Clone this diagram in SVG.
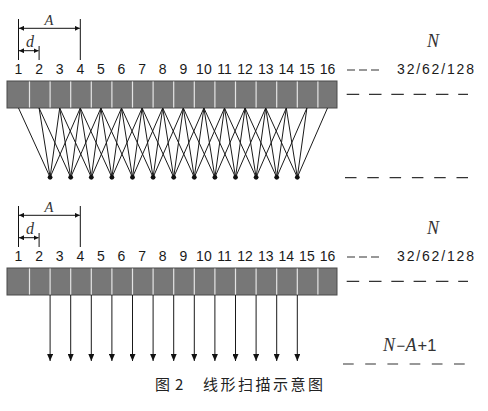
<svg xmlns="http://www.w3.org/2000/svg" width="488" height="411" viewBox="0 0 488 411">
<defs>
<style>
.num{font-family:"Liberation Sans",Arial,sans-serif;font-size:14px;fill:#1a1a1a;text-anchor:middle}
.it{font-family:"Liberation Serif","Times New Roman",serif;font-style:italic;fill:#333}
.bar{fill:#777;stroke:#4a4a4a;stroke-width:1}
.sep{stroke:#e4e4e4;stroke-width:1.2}
.dim{stroke:#111;stroke-width:1;fill:none}
.dash{stroke:#333;stroke-width:1.2;fill:none}
.wire{stroke:#1a1a1a;stroke-width:1;fill:none;stroke-linejoin:round}
.arr{stroke:#1a1a1a;stroke-width:1}
.cap{font-family:"Noto Sans CJK SC","Noto Sans",sans-serif;font-size:15px;fill:#222}
.op{font-family:"Liberation Sans",Arial,sans-serif;fill:#333}
</style>
<marker id="ah" viewBox="0 0 8 8" refX="8" refY="4" markerWidth="5" markerHeight="5" markerUnits="userSpaceOnUse" orient="auto-start-reverse">
<path d="M0,0L8,4L0,8z" fill="#111"/>
</marker>
<marker id="down" viewBox="0 0 6 7" refX="3" refY="7" markerWidth="6" markerHeight="7" markerUnits="userSpaceOnUse" orient="0">
<path d="M0,0L6,0L3,7z" fill="#111"/>
</marker>
<g id="header">
<line class="dim" x1="18.5" y1="19" x2="18.5" y2="60"/>
<line class="dim" x1="80.3" y1="19" x2="80.3" y2="60"/>
<line class="dim" x1="39.1" y1="46" x2="39.1" y2="60"/>
<line class="dim" x1="19" y1="28.3" x2="79.8" y2="28.3" marker-start="url(#ah)" marker-end="url(#ah)"/>
<line class="dim" x1="19" y1="50.7" x2="38.6" y2="50.7" marker-start="url(#ah)" marker-end="url(#ah)"/>
<text class="it" x="49" y="25" font-size="14.5" text-anchor="middle">A</text>
<text class="it" x="30" y="46.5" font-size="16" text-anchor="middle">d</text>
<text class="num" y="74"><tspan x="18.5">1</tspan><tspan x="39.1">2</tspan><tspan x="59.7">3</tspan><tspan x="80.3">4</tspan><tspan x="100.9">5</tspan><tspan x="121.5">6</tspan><tspan x="142.1">7</tspan><tspan x="162.7">8</tspan><tspan x="183.3">9</tspan><tspan x="203.9">10</tspan><tspan x="224.5">11</tspan><tspan x="245.1">12</tspan><tspan x="265.7">13</tspan><tspan x="286.3">14</tspan><tspan x="306.9">15</tspan><tspan x="327.5">16</tspan></text>
<line class="dash" x1="347" y1="70" x2="379" y2="70" stroke-dasharray="8 4"/>
<text class="it" x="433" y="46.5" font-size="18" text-anchor="middle">N</text>
<text class="num" x="435.5" y="74" textLength="77" lengthAdjust="spacing">32/62/128</text>
<rect class="bar" x="7" y="81" width="330" height="27"/>
<path class="sep" d="M29.5 81.5V107.5M50.1 81.5V107.5M70.7 81.5V107.5M91.3 81.5V107.5M111.9 81.5V107.5M132.5 81.5V107.5M153.1 81.5V107.5M173.7 81.5V107.5M194.3 81.5V107.5M214.9 81.5V107.5M235.5 81.5V107.5M256.1 81.5V107.5M276.7 81.5V107.5M297.3 81.5V107.5M317.9 81.5V107.5"/>
<line class="dash" x1="346.7" y1="94.3" x2="468" y2="94.3" stroke-dasharray="12.5 9.8"/>
</g>
</defs>
<rect width="488" height="411" fill="#fff"/>

<g id="top-array">
<use href="#header"/>
</g>

<g id="top-connectors">
<path class="wire" d="M18.5 108L50.1 177.3L39.1 108M59.7 108L50.1 177.3L80.3 108
M39.1 108L70.7 177.3L59.7 108M80.3 108L70.7 177.3L100.9 108
M59.7 108L91.3 177.3L80.3 108M100.9 108L91.3 177.3L121.5 108
M80.3 108L111.9 177.3L100.9 108M121.5 108L111.9 177.3L142.1 108
M100.9 108L132.5 177.3L121.5 108M142.1 108L132.5 177.3L162.7 108
M121.5 108L153.1 177.3L142.1 108M162.7 108L153.1 177.3L183.3 108
M142.1 108L173.7 177.3L162.7 108M183.3 108L173.7 177.3L203.9 108
M162.7 108L194.3 177.3L183.3 108M203.9 108L194.3 177.3L224.5 108
M183.3 108L214.9 177.3L203.9 108M224.5 108L214.9 177.3L245.1 108
M203.9 108L235.5 177.3L224.5 108M245.1 108L235.5 177.3L265.7 108
M224.5 108L256.1 177.3L245.1 108M265.7 108L256.1 177.3L286.3 108
M245.1 108L276.7 177.3L265.7 108M286.3 108L276.7 177.3L306.9 108
M265.7 108L297.3 177.3L286.3 108M306.9 108L297.3 177.3L327.5 108"/>
</g>

<g id="top-dots" fill="#111">
<circle cx="50.1" cy="177.3" r="2.4"/><circle cx="70.7" cy="177.3" r="2.4"/><circle cx="91.3" cy="177.3" r="2.4"/><circle cx="111.9" cy="177.3" r="2.4"/><circle cx="132.5" cy="177.3" r="2.4"/><circle cx="153.1" cy="177.3" r="2.4"/><circle cx="173.7" cy="177.3" r="2.4"/><circle cx="194.3" cy="177.3" r="2.4"/><circle cx="214.9" cy="177.3" r="2.4"/><circle cx="235.5" cy="177.3" r="2.4"/><circle cx="256.1" cy="177.3" r="2.4"/><circle cx="276.7" cy="177.3" r="2.4"/><circle cx="297.3" cy="177.3" r="2.4"/>
</g>
<g id="top-count">
<line class="dash" x1="345" y1="177.7" x2="468" y2="177.7" stroke-dasharray="11.5 10.8"/>
</g>

<g id="bottom-array">
<use href="#header" transform="translate(0,187)"/>
</g>

<g id="bottom-connectors">
<line class="arr" x1="50.1" y1="295" x2="50.1" y2="361" marker-end="url(#down)"/>
<line class="arr" x1="70.7" y1="295" x2="70.7" y2="361" marker-end="url(#down)"/>
<line class="arr" x1="91.3" y1="295" x2="91.3" y2="361" marker-end="url(#down)"/>
<line class="arr" x1="111.9" y1="295" x2="111.9" y2="361" marker-end="url(#down)"/>
<line class="arr" x1="132.5" y1="295" x2="132.5" y2="361" marker-end="url(#down)"/>
<line class="arr" x1="153.1" y1="295" x2="153.1" y2="361" marker-end="url(#down)"/>
<line class="arr" x1="173.7" y1="295" x2="173.7" y2="361" marker-end="url(#down)"/>
<line class="arr" x1="194.3" y1="295" x2="194.3" y2="361" marker-end="url(#down)"/>
<line class="arr" x1="214.9" y1="295" x2="214.9" y2="361" marker-end="url(#down)"/>
<line class="arr" x1="235.5" y1="295" x2="235.5" y2="361" marker-end="url(#down)"/>
<line class="arr" x1="256.1" y1="295" x2="256.1" y2="361" marker-end="url(#down)"/>
<line class="arr" x1="276.7" y1="295" x2="276.7" y2="361" marker-end="url(#down)"/>
<line class="arr" x1="297.3" y1="295" x2="297.3" y2="361" marker-end="url(#down)"/>
</g>

<g id="bottom-count">
<text y="350.7" font-size="18"><tspan class="it" x="383">N</tspan><tspan class="op" x="396.5" font-size="15">−</tspan><tspan class="it" x="405.5">A</tspan><tspan class="op" x="417.5" font-size="16.5">+1</tspan></text>
<line class="dash" x1="343" y1="364" x2="465" y2="364" stroke-dasharray="10.7 11.5"/>
</g>

<g id="caption">
<text class="cap" y="390"><tspan x="155">图</tspan><tspan x="175">2</tspan><tspan x="203" letter-spacing="2.5">线形扫描示意图</tspan></text>
</g>
</svg>
